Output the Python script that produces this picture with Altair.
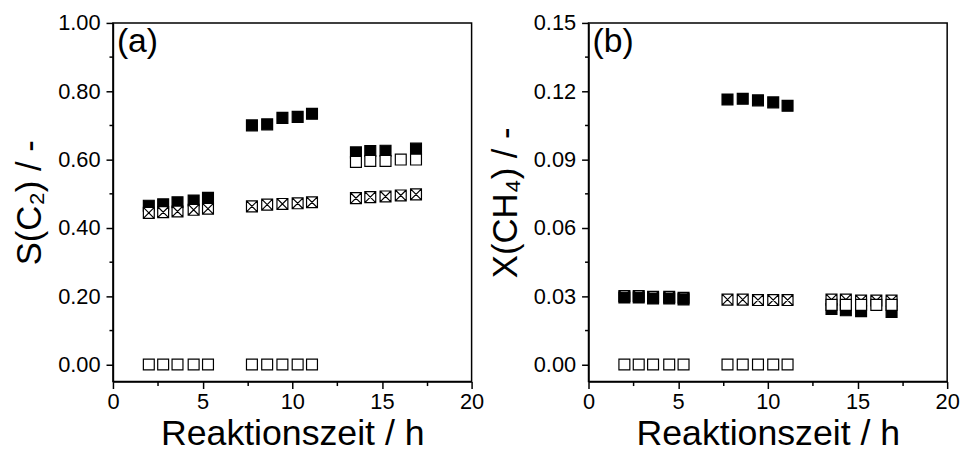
import altair as alt
import pandas as pd

# --- data ---
reaction_time = [2.0, 2.8, 3.6, 4.5, 5.3,
                 7.75, 8.6, 9.45, 10.3, 11.1,
                 13.55, 14.35, 15.2, 16.05, 16.9]

a_filled = [0.465, 0.469, 0.475, 0.480, 0.488,
            0.700, 0.703, 0.722, 0.725, 0.734,
            0.621, 0.625, 0.626, None, 0.632]
a_open = [0.0, 0.0, 0.0, 0.0, 0.0,
          0.0, 0.0, 0.0, 0.0, 0.0,
          0.593, 0.596, 0.596, 0.600, 0.600]
a_crossed = [0.444, 0.446, 0.448, 0.453, 0.456,
             0.463, 0.468, 0.470, 0.472, 0.475,
             0.487, 0.490, 0.492, 0.495, 0.498]

b_filled = [0.0294, 0.0294, 0.0290, 0.0290, 0.0286,
            0.1164, 0.1167, 0.1160, 0.1151, 0.1136,
            0.0244, 0.0238, 0.0234, None, 0.0231]
b_open = [0.0, 0.0, 0.0, 0.0, 0.0,
          0.0, 0.0, 0.0, 0.0, 0.0,
          0.0262, 0.0262, 0.0262, 0.0262, 0.0262]
b_crossed = [0.0301, 0.0301, 0.0297, 0.0297, 0.0293,
             0.0285, 0.0285, 0.0283, 0.0283, 0.0283,
             0.0285, 0.0285, 0.0281, 0.0281, 0.0281]

panel_labels = ["(a)", "(b)"]
x_title = "Reaktionszeit / h"
y_titles = ["S(C₂) / -", "X(CH₄) / -"]

x_ticks = [0, 2.5, 5, 7.5, 10, 12.5, 15, 17.5, 20]
a_ticks = [0.0, 0.1, 0.2, 0.3, 0.4, 0.5, 0.6, 0.7, 0.8, 0.9, 1.0]
b_ticks = [0.0, 0.015, 0.03, 0.045, 0.06, 0.075, 0.09, 0.105, 0.12, 0.135, 0.15]


def long_df(filled, open_, crossed):
    rows = []
    for name, vals in (("filled", filled), ("open", open_), ("crossed", crossed)):
        for x, y in zip(reaction_time, vals):
            if y is not None:
                rows.append({"x": x, "y": y, "series": name})
    return pd.DataFrame(rows)


FONT = "Liberation Sans"
CROSS = "M-1,-1H1V1H-1Z M-1,-1L1,1 M1,-1L-1,1"
styles = {
    "filled": dict(shape="square", fill="black"),
    "open": dict(shape="square", fill="white"),
    "crossed": dict(shape=CROSS, fill="white"),
}


def panel(df, domain, ticks, major_test, ytitle, label, order):
    X = alt.X(
        "x:Q",
        scale=alt.Scale(domain=[0, 20], nice=False, zero=False),
        axis=alt.Axis(
            title=x_title, values=x_ticks, format="d",
            labelExpr="datum.value % 5 == 0 ? datum.label : ''",
            tickSize={"condition": {"test": "datum.value % 5 == 0", "value": 7}, "value": 4},
            labelOverlap=False, labelFlush=False, grid=False,
            labelFontSize=22, titleFontSize=36, titleFontWeight="normal",
            labelPadding=3, titlePadding=5,
            domainColor="black", tickColor="black", labelColor="black", titleColor="black",
            domainWidth=1.5, tickWidth=1.5,
        ),
    )
    Y = alt.Y(
        "y:Q",
        scale=alt.Scale(domain=domain, nice=False, zero=False),
        axis=alt.Axis(
            title=ytitle, values=ticks, format=".2f",
            labelExpr=f"{major_test} ? datum.label : ''",
            tickSize={"condition": {"test": major_test, "value": 7}, "value": 4},
            labelOverlap=False, grid=False,
            labelFontSize=22, titleFontSize=35, titleFontWeight="normal",
            labelPadding=6, titlePadding=10,
            domainColor="black", tickColor="black", labelColor="black", titleColor="black",
            domainWidth=1.5, tickWidth=1.5,
        ),
    )
    base = alt.Chart(df)
    layers = []
    for s in order:
        st = styles[s]
        layers.append(
            base.transform_filter(alt.datum.series == s)
            .mark_point(shape=st["shape"], filled=True, fill=st["fill"], stroke="black",
                        strokeWidth=1.2, size=121, opacity=1)
            .encode(x=X, y=Y)
        )
    txt = alt.Chart(pd.DataFrame({"t": [label]})).mark_text(
        align="left", baseline="top", fontSize=34, font=FONT, color="black"
    ).encode(text="t:N", x=alt.value(4), y=alt.value(2))
    return alt.layer(*layers, txt).properties(width=362, height=362)


pa = panel(long_df(a_filled, a_open, a_crossed), [-0.05, 1.0], a_ticks,
           "round(datum.value * 10) % 2 == 0", y_titles[0], panel_labels[0],
           ["filled", "crossed", "open"])
pb = panel(long_df(b_filled, b_open, b_crossed), [-0.0075, 0.15], b_ticks,
           "round(datum.value * 1000 / 15) % 2 == 0", y_titles[1], panel_labels[1],
           ["crossed", "filled", "open"])

chart = alt.hconcat(pa, pb, spacing=3).configure(
    font=FONT,
    padding={"left": 12, "top": 9, "right": 5, "bottom": 5},
).configure_view(stroke="black", strokeWidth=1.5)

chart.save("out.html", embed_options={"renderer": "svg", "actions": False})
